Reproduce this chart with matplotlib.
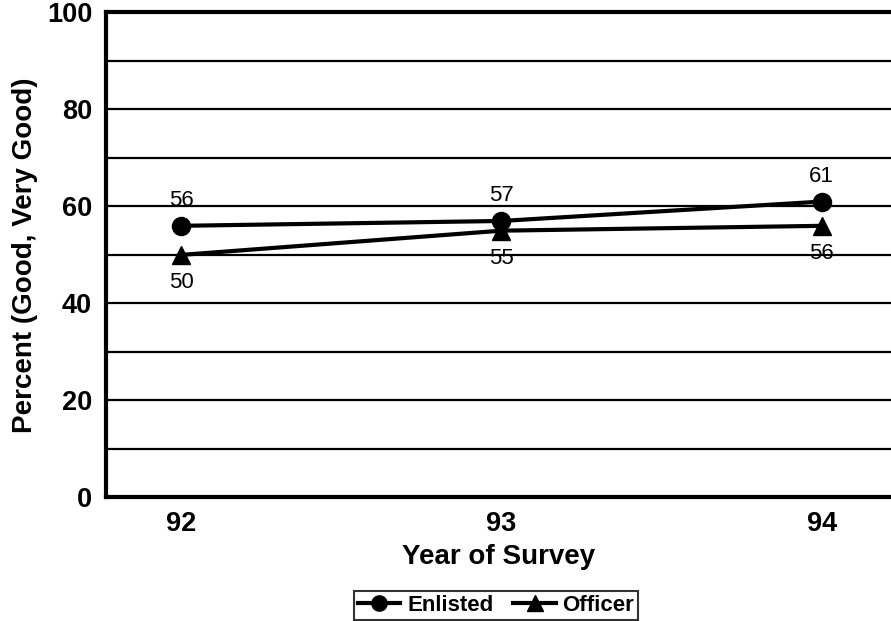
import matplotlib
matplotlib.use("Agg")
import matplotlib.pyplot as plt

years = [92, 93, 94]
year_labels = ["92", "93", "94"]
enlisted = [56, 57, 61]
officer = [50, 55, 56]

plt.rcParams['font.family'] = ['Liberation Sans', 'DejaVu Sans']

fig = plt.figure(figsize=(8.91, 6.21), dpi=100)
ax = fig.add_axes([0.119, 0.199, 0.881, 0.781])

ax.set_xlim(91.766, 94.216)
ax.set_ylim(0, 100)

for yv in range(10, 100, 10):
    ax.axhline(yv, color='black', lw=1.6, zorder=1)

ax.plot(years, enlisted, color='black', lw=3, marker='o', ms=13, zorder=3, label='Enlisted')
ax.plot(years, officer, color='black', lw=3, marker='^', ms=13, zorder=3, label='Officer')

# value labels: enlisted above the marker, officer below
for x, e, o in zip(years, enlisted, officer):
    ax.annotate(str(e), (x, e), xytext=(0, 18), textcoords='offset points',
                ha='center', va='center', fontsize=16)
    ax.annotate(str(o), (x, o), xytext=(0, -20), textcoords='offset points',
                ha='center', va='center', fontsize=16)

ax.set_xticks(years)
ax.set_xticklabels(year_labels)
ax.set_yticks(range(0, 101, 20))
ax.tick_params(length=0, labelsize=19.5, pad=10)
for lab in ax.get_xticklabels() + ax.get_yticklabels():
    lab.set_fontweight('bold')

ax.set_xlabel('Year of Survey', fontsize=20, fontweight='bold', labelpad=5)
ax.set_ylabel('Percent (Good, Very Good)', fontsize=20, fontweight='bold', labelpad=6)

for s in ['left', 'bottom', 'top']:
    ax.spines[s].set_linewidth(3)
ax.spines['right'].set_visible(False)

leg = ax.legend(loc='upper center', bbox_to_anchor=(0.497, -0.192), ncol=2,
                frameon=True, fancybox=False, edgecolor='black',
                handlelength=1.9, columnspacing=0.9, handletextpad=0.3,
                borderpad=0.2, borderaxespad=0, prop={'weight': 'bold', 'size': 16})
leg.get_frame().set_linewidth(1.5)
for h in leg.legend_handles:
    h.set_markersize(11)

fig.savefig('out.png', dpi=100)
